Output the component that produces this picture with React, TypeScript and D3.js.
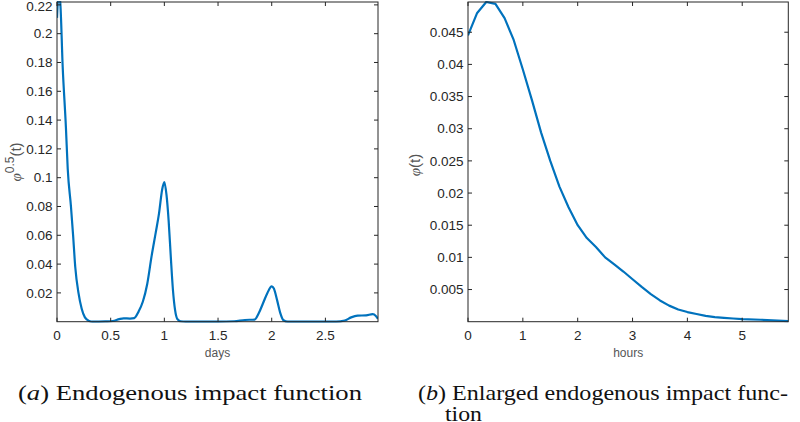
import React from "react";
import * as d3 from "d3";

// Panel (a): endogenous impact function phi^0.5(t), t in days
const daysT = [0, 0.015, 0.03, 0.053, 0.083, 0.1, 0.13, 0.15, 0.17, 0.2, 0.23, 0.26, 0.3, 0.33, 0.45, 0.52, 0.58, 0.62, 0.68, 0.72, 0.76, 0.8, 0.84, 0.88, 0.92, 0.95, 0.98, 1.0, 1.02, 1.04, 1.06, 1.08, 1.1, 1.12, 1.15, 1.2, 1.5, 1.65, 1.75, 1.84, 1.88, 1.92, 1.96, 2.0, 2.02, 2.05, 2.08, 2.11, 2.15, 2.6, 2.68, 2.74, 2.8, 2.88, 2.94, 2.97, 2.99];
const daysV = [0.211, 0.228, 0.222, 0.177, 0.135, 0.106, 0.08, 0.06, 0.038, 0.02, 0.009, 0.003, 0.0005, 0, 0.0002, 0.0005, 0.0018, 0.0023, 0.0022, 0.0025, 0.007, 0.014, 0.026, 0.045, 0.062, 0.075, 0.092, 0.097, 0.088, 0.07, 0.045, 0.022, 0.008, 0.002, 0.0003, 0, 0, 0.0003, 0.0012, 0.0015, 0.006, 0.013, 0.02, 0.0245, 0.023, 0.015, 0.006, 0.001, 0, 0, 0.0008, 0.003, 0.0042, 0.0044, 0.0052, 0.004, 0.002];
const daysXTicks = [0, 0.5, 1, 1.5, 2, 2.5];
const daysXTickLabels = ["0", "0.5", "1", "1.5", "2", "2.5"];
const daysYTicks = [0.02, 0.04, 0.06, 0.08, 0.1, 0.12, 0.14, 0.16, 0.18, 0.2, 0.22];
const daysYTickLabels = ["0.02", "0.04", "0.06", "0.08", "0.1", "0.12", "0.14", "0.16", "0.18", "0.2", "0.22"];

// Panel (b): enlarged endogenous impact function phi(t), t in hours
const hoursT = [0, 0.167, 0.333, 0.5, 0.667, 0.833, 1.0, 1.167, 1.333, 1.5, 1.667, 1.833, 2.0, 2.167, 2.333, 2.5, 2.667, 2.833, 3.0, 3.167, 3.333, 3.5, 3.667, 3.833, 4.0, 4.167, 4.333, 4.5, 4.667, 4.833, 5.0, 5.333, 5.84];
const hoursV = [0.0445, 0.048, 0.0497, 0.0494, 0.0472, 0.0438, 0.0392, 0.0344, 0.0294, 0.025, 0.021, 0.0178, 0.015, 0.013, 0.0116, 0.01, 0.0089, 0.0078, 0.0066, 0.0054, 0.0043, 0.0033, 0.0025, 0.0019, 0.0015, 0.0012, 0.0009, 0.0007, 0.0006, 0.0005, 0.0004, 0.0003, 0.0001];
const hoursXTicks = [0, 1, 2, 3, 4, 5];
const hoursXTickLabels = ["0", "1", "2", "3", "4", "5"];
const hoursYTicks = [0.005, 0.01, 0.015, 0.02, 0.025, 0.03, 0.035, 0.04, 0.045];
const hoursYTickLabels = ["0.005", "0.01", "0.015", "0.02", "0.025", "0.03", "0.035", "0.04", "0.045"];

const LINE = "#0072BD";
const AXIS = "#262626";
const LABEL = "#555";
const SANS = "Liberation Sans, Arimo, Arial, sans-serif";
const SERIF = "Liberation Serif, Tinos, Times New Roman, serif";

type PanelProps = {
  id: string;
  xs: number[];
  ys: number[];
  xDomain: [number, number];
  yDomain: [number, number];
  left: number;
  right: number;
  top: number;
  bottom: number;
  xTicks: number[];
  xTickLabels: string[];
  yTicks: number[];
  yTickLabels: string[];
  xLabel: string;
  smooth: boolean;
  yLabel: React.ReactNode;
};

function Panel(p: PanelProps) {
  const x = d3.scaleLinear().domain(p.xDomain).range([p.left, p.right]);
  const y = d3.scaleLinear().domain(p.yDomain).range([p.bottom, p.top]);
  const pts = p.xs.map((t, i) => [t, p.ys[i]] as [number, number]);
  const line = d3
    .line<[number, number]>()
    .x((d) => x(d[0]))
    .y((d) => y(d[1]))
    .curve(p.smooth ? d3.curveMonotoneX : d3.curveLinear);
  const tl = 4;
  return (
    <g>
      <defs>
        <clipPath id={p.id}>
          <rect x={p.left} y={p.top - 1} width={p.right - p.left} height={p.bottom - p.top + 2} />
        </clipPath>
      </defs>
      <rect x={p.left} y={p.top} width={p.right - p.left} height={p.bottom - p.top} fill="#fff" />
      <path d={line(pts) || ""} fill="none" stroke={LINE} strokeWidth={2.2} strokeLinejoin="round" clipPath={`url(#${p.id})`} />
      {p.xTicks.map((t, i) => (
        <g key={"x" + i}>
          <line x1={x(t)} x2={x(t)} y1={p.bottom} y2={p.bottom - tl} stroke={AXIS} strokeWidth={1} />
          <line x1={x(t)} x2={x(t)} y1={p.top} y2={p.top + tl} stroke={AXIS} strokeWidth={1} />
          <text x={x(t)} y={p.bottom + 18} textAnchor="middle" fontSize={13.5} fill={AXIS} style={{ fontFamily: SANS }}>
            {p.xTickLabels[i]}
          </text>
        </g>
      ))}
      {p.yTicks.map((t, i) => (
        <g key={"y" + i}>
          <line x1={p.left} x2={p.left + tl} y1={y(t)} y2={y(t)} stroke={AXIS} strokeWidth={1} />
          <line x1={p.right} x2={p.right - tl} y1={y(t)} y2={y(t)} stroke={AXIS} strokeWidth={1} />
          <text x={p.left - 4.5} y={Math.max(y(t), 6.5)} dy="0.35em" textAnchor="end" fontSize={13.5} fill={AXIS} style={{ fontFamily: SANS }}>
            {p.yTickLabels[i]}
          </text>
        </g>
      ))}
      <rect x={p.left} y={p.top} width={p.right - p.left} height={p.bottom - p.top} fill="none" stroke={AXIS} strokeWidth={1} />
      <text x={(p.left + p.right) / 2} y={p.bottom + 35} textAnchor="middle" fontSize={12} fill={LABEL} style={{ fontFamily: SANS }}>
        {p.xLabel}
      </text>
      {p.yLabel}
    </g>
  );
}

export default function App() {
  const top = 2;
  const bottom = 321.7;
  return (
    <svg width={800} height={422} style={{ display: "block", position: "absolute", left: 0, top: 0 }}>
      <rect width={800} height={422} fill="#fff" />
      <Panel
        id="clipA"
        xs={daysT}
        ys={daysV}
        xDomain={[0, 2.99]}
        yDomain={[0, 0.222]}
        left={57}
        right={378}
        top={top}
        bottom={bottom}
        xTicks={daysXTicks}
        xTickLabels={daysXTickLabels}
        yTicks={daysYTicks}
        yTickLabels={daysYTickLabels}
        xLabel="days"
        smooth={true}
        yLabel={
          <text transform="translate(21,162) rotate(-90)" textAnchor="middle" fontSize={15} fill={LABEL} style={{ fontFamily: SANS }}>
            <tspan fontStyle="italic" style={{ fontFamily: SERIF }}>φ</tspan>
            <tspan dy={-7} fontSize={12}>0.5</tspan>
            <tspan dy={7}>(t)</tspan>
          </text>
        }
      />
      <Panel
        id="clipB"
        xs={hoursT}
        ys={hoursV}
        xDomain={[0, 5.84]}
        yDomain={[0, 0.0497]}
        left={468}
        right={788.3}
        top={top}
        bottom={bottom}
        xTicks={hoursXTicks}
        xTickLabels={hoursXTickLabels}
        yTicks={hoursYTicks}
        yTickLabels={hoursYTickLabels}
        xLabel="hours"
        smooth={false}
        yLabel={
          <text transform="translate(420,165) rotate(-90)" textAnchor="middle" fontSize={15} fill={LABEL} style={{ fontFamily: SANS }}>
            <tspan fontStyle="italic" style={{ fontFamily: SERIF }}>φ</tspan>
            <tspan>(t)</tspan>
          </text>
        }
      />
      <text x={18} y={400} fontSize={22} fill="#111" style={{ fontFamily: SERIF }} textLength={344} lengthAdjust="spacingAndGlyphs">
        (<tspan fontStyle="italic">a</tspan>) Endogenous impact function
      </text>
      <text x={418} y={400} fontSize={22} fill="#111" style={{ fontFamily: SERIF }} textLength={370} lengthAdjust="spacingAndGlyphs">
        (<tspan fontStyle="italic">b</tspan>) Enlarged endogenous impact func-
      </text>
      <text x={445} y={420.5} fontSize={22} fill="#111" style={{ fontFamily: SERIF }} textLength={37} lengthAdjust="spacingAndGlyphs">
        tion
      </text>
    </svg>
  );
}
